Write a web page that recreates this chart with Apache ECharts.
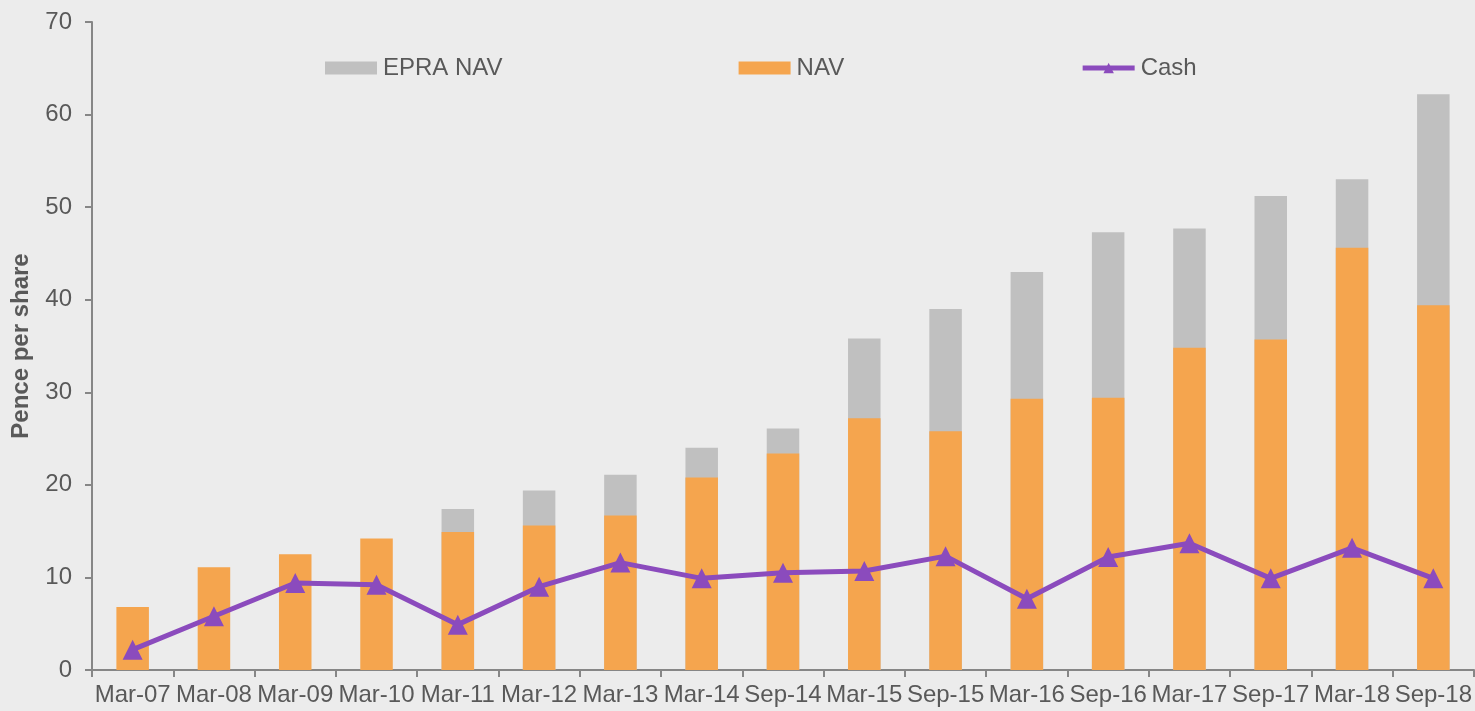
<!DOCTYPE html>
<html>
<head>
<meta charset="utf-8">
<script src="https://cdn.jsdelivr.net/npm/echarts@6/dist/echarts.min.js"></script>
<style>
  html, body { margin: 0; padding: 0; background: #ececec; }
  #chart { width: 1475px; height: 711px; }
</style>
</head>
<body>
<div id="chart"></div>
<script>
var categories = ['Mar-07', 'Mar-08', 'Mar-09', 'Mar-10', 'Mar-11', 'Mar-12', 'Mar-13', 'Mar-14', 'Sep-14',
    'Mar-15', 'Sep-15', 'Mar-16', 'Sep-16', 'Mar-17', 'Sep-17', 'Mar-18', 'Sep-18'];
var epraNav = [null, null, null, null, 17.4, 19.4, 21.1, 24.0, 26.1, 35.8, 39.0, 43.0, 47.3, 47.7, 51.2, 53.0, 62.2];
var nav = [6.8, 11.1, 12.5, 14.2, 14.9, 15.6, 16.7, 20.8, 23.4, 27.2, 25.8, 29.3, 29.4, 34.8, 35.7, 45.6, 39.4];
var cash = [2.2, 5.8, 9.4, 9.2, 4.9, 9.0, 11.6, 9.9, 10.5, 10.7, 12.3, 7.7, 12.2, 13.7, 9.9, 13.2, 9.9];

var textColor = '#595959';
var axisColor = '#868686';
var cashColor = '#8b4bbd';

var chartDom = document.getElementById('chart');
var myChart = echarts.init(chartDom);
myChart.setOption({
    backgroundColor: '#ececec',
    animation: false,
    textStyle: { fontFamily: 'Liberation Sans, Arial, sans-serif' },
    grid: { left: 92, right: 0, top: 22, bottom: 41, containLabel: false },
    legend: {
        left: 320,
        top: 51,
        itemGap: 236,
        itemWidth: 52,
        itemHeight: 13,
        textStyle: { color: textColor, fontSize: 24, padding: [0, 0, 0, 1] },
        data: [
            { name: 'EPRA NAV', icon: 'rect' },
            { name: 'NAV', icon: 'rect' },
            { name: 'Cash', lineStyle: { width: 5, color: cashColor } }
        ]
    },
    xAxis: {
        type: 'category',
        data: categories,
        axisLine: { lineStyle: { color: axisColor, width: 2 } },
        axisTick: { show: true, length: 7, lineStyle: { color: axisColor, width: 2 } },
        axisLabel: { color: textColor, fontSize: 24, interval: 0, margin: 13 }
    },
    yAxis: {
        type: 'value',
        min: 0,
        max: 70,
        interval: 10,
        name: 'Pence per share',
        nameLocation: 'middle',
        nameGap: 59,
        nameTextStyle: { color: textColor, fontSize: 24, fontWeight: 'bold' },
        splitLine: { show: false },
        axisLine: { show: true, lineStyle: { color: axisColor, width: 2 } },
        axisTick: { show: true, length: 7, lineStyle: { color: axisColor, width: 2 } },
        axisLabel: { color: textColor, fontSize: 24, margin: 20 }
    },
    series: [
        {
            name: 'EPRA NAV',
            type: 'bar',
            data: epraNav,
            barWidth: '40%',
            barGap: '-100%',
            itemStyle: { color: '#c0c0c0' }
        },
        {
            name: 'NAV',
            type: 'bar',
            data: nav,
            barWidth: '40%',
            itemStyle: { color: '#f5a54e' }
        },
        {
            name: 'Cash',
            type: 'line',
            data: cash,
            symbol: 'triangle',
            symbolSize: 20,
            lineStyle: { color: cashColor, width: 5 },
            itemStyle: { color: cashColor }
        }
    ]
});
window.addEventListener('resize', function () {
    myChart.resize();
});
</script>
</body>
</html>
